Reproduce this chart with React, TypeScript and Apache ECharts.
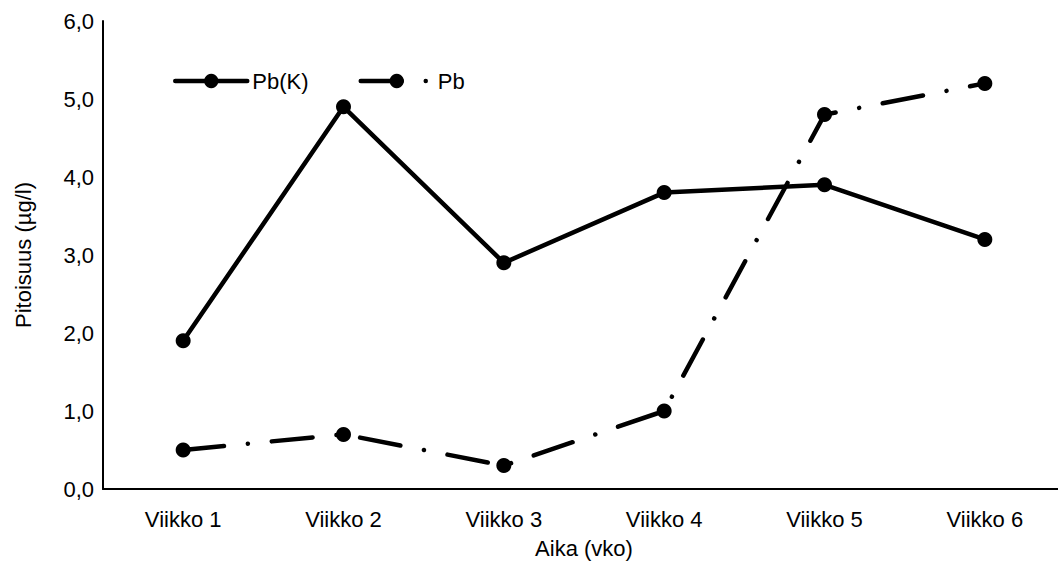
import React, { useEffect, useRef } from "react";
import * as echarts from "echarts";

const weeks = ["Viikko 1", "Viikko 2", "Viikko 3", "Viikko 4", "Viikko 5", "Viikko 6"];
const pbK = [1.9, 4.9, 2.9, 3.8, 3.9, 3.2];
const pb = [0.5, 0.7, 0.3, 1.0, 4.8, 5.2];

const FONT = "'Liberation Sans', Arial, sans-serif";
const DASH_DOT = [41, 24, 0.01, 24];
const LINE_W = 4.5;

export default function App() {
  const ref = useRef<HTMLDivElement>(null);

  useEffect(() => {
    if (!ref.current) return;
    const chart = echarts.init(ref.current, null, { renderer: "svg" });
    chart.setOption({
      animation: false,
      textStyle: { fontFamily: FONT, color: "#000" },
      // the plot runs a little past the visible right edge
      grid: { left: 103, right: 7, top: 21, bottom: 73, containLabel: false },
      legend: {
        left: 168,
        top: 65,
        itemWidth: 72,
        itemHeight: 18,
        itemGap: 50,
        textStyle: { fontFamily: FONT, fontSize: 22, color: "#000" },
        data: [
          {
            name: "Pb(K)",
            lineStyle: { width: LINE_W, color: "#000", cap: "round" },
          },
          {
            name: "Pb",
            lineStyle: { width: LINE_W, color: "#000", cap: "round", type: DASH_DOT },
          },
        ],
      },
      xAxis: {
        type: "category",
        data: weeks,
        boundaryGap: true,
        axisLine: { lineStyle: { color: "#000", width: 2 } },
        axisTick: { show: false },
        axisLabel: { fontFamily: FONT, fontSize: 22, color: "#000", margin: 19 },
        name: "Aika (vko)",
        nameLocation: "middle",
        nameGap: 48,
        nameTextStyle: { fontFamily: FONT, fontSize: 22, color: "#000" },
      },
      yAxis: {
        type: "value",
        min: 0,
        max: 6,
        interval: 1,
        splitLine: { show: false },
        axisLine: { show: true, lineStyle: { color: "#000", width: 2 } },
        axisTick: { show: false },
        axisLabel: {
          fontFamily: FONT,
          fontSize: 22,
          color: "#000",
          margin: 9,
          formatter: (v: number) => v.toFixed(1).replace(".", ","),
        },
        name: "Pitoisuus (µg/l)",
        nameLocation: "middle",
        nameGap: 69,
        nameTextStyle: { fontFamily: FONT, fontSize: 22, color: "#000" },
      },
      series: [
        {
          name: "Pb(K)",
          type: "line",
          data: pbK,
          symbol: "circle",
          symbolSize: 15,
          itemStyle: { color: "#000" },
          lineStyle: { color: "#000", width: LINE_W, cap: "round", join: "round" },
        },
        {
          name: "Pb",
          type: "line",
          data: pb,
          symbol: "circle",
          symbolSize: 15,
          itemStyle: { color: "#000" },
          lineStyle: {
            color: "#000",
            width: LINE_W,
            cap: "round",
            join: "round",
            type: DASH_DOT,
          },
        },
      ],
    });
    return () => chart.dispose();
  }, []);

  return (
    <div
      style={{
        position: "absolute",
        left: 0,
        top: 0,
        width: 1058,
        height: 564,
        overflow: "hidden",
      }}
    >
      <div ref={ref} style={{ width: 1072, height: 564 }} />
    </div>
  );
}
